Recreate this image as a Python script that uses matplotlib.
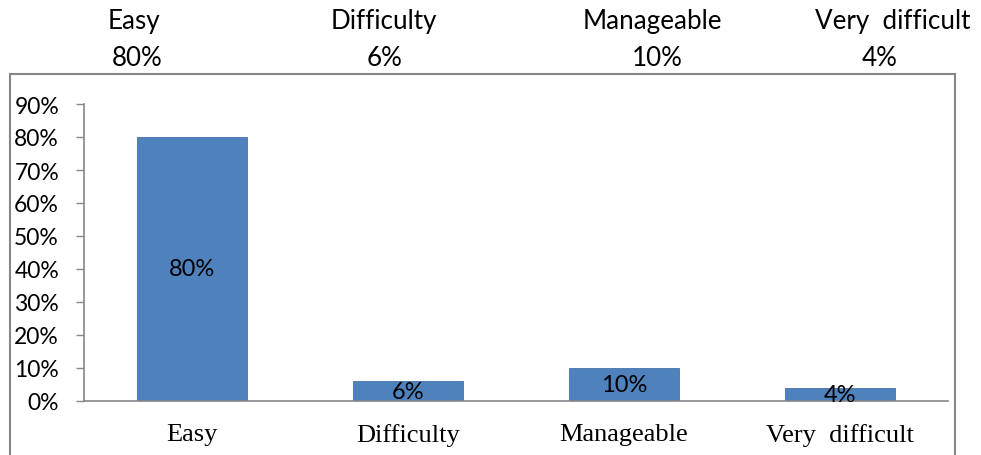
import matplotlib.pyplot as plt
from matplotlib.patches import Rectangle

# Data
categories = ['Easy', 'Difficulty', 'Manageable', 'Very  difficult']
top_names = ['Easy', 'Difficulty', 'Manageable', 'Very  difficult']
values = [80, 6, 10, 4]
yticks = [0, 10, 20, 30, 40, 50, 60, 70, 80, 90]

W, H = 981, 456
fig = plt.figure(figsize=(W / 100, H / 100), dpi=100)

# axes placed in pixel coords: left 84, right 948, 0% at y=402, 90% at y=105
ax = fig.add_axes([84 / W, 1 - 402 / H, (948 - 84) / W, (402 - 105) / H])
x = range(len(categories))
bars = ax.bar(x, values, width=0.51, color='#4F81BD', edgecolor='#4572A7', linewidth=0.6)
ax.set_xlim(-0.5, len(categories) - 0.5)
ax.set_ylim(0, 90)

ax.set_yticks(yticks)
ax.set_yticklabels([f'{t}%' for t in yticks], family='Lato', fontsize=16.5)
ax.set_xticks(list(x))
ax.set_xticklabels(categories, family='Liberation Serif', fontsize=19)
ax.tick_params(axis='x', length=0, pad=16)
ax.tick_params(axis='y', length=6, color='#868686', width=1, pad=12)
for s in ['top', 'right']:
    ax.spines[s].set_visible(False)
for s in ['left', 'bottom']:
    ax.spines[s].set_color('#868686')
    ax.spines[s].set_linewidth(1.2)

# labels in the middle of each bar
for i, v in enumerate(values):
    ax.text(i, v / 2, f'{v}%', ha='center', va='center', family='Lato', fontsize=17)

# outer box
fig.patches.append(Rectangle((10 / W, -0.01), (955 - 10) / W, 1 - 75 / H + 0.01,
                             transform=fig.transFigure, fill=False,
                             edgecolor='#868686', linewidth=1.5))

# header rows above the box
top_x = [134, 384, 652, 893]
pct_x = [137, 385, 657, 880]
for tx, px, name, v in zip(top_x, pct_x, top_names, values):
    fig.text(tx / W, 1 - 22 / H, name, ha='center', va='center', family='Lato', fontsize=18.7)
    fig.text(px / W, 1 - 58 / H, f'{v}%', ha='center', va='center', family='Lato', fontsize=18.7)

fig.savefig('out.png', dpi=100)
